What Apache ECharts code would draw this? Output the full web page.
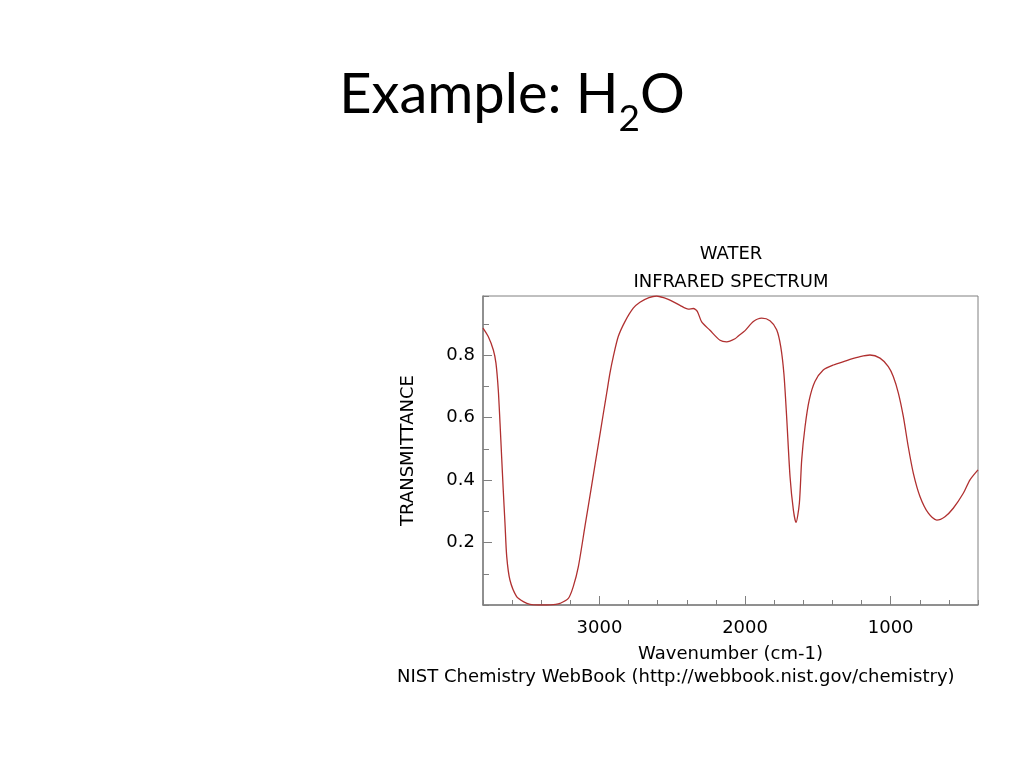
<!DOCTYPE html>
<html>
<head>
<meta charset="utf-8">
<script src="https://cdn.jsdelivr.net/npm/echarts@6/dist/echarts.min.js"></script>
<style>
html,body{margin:0;padding:0;background:#fff;}
#main{width:1024px;height:768px;}
</style>
</head>
<body>
<div id="main"></div>
<script>
// Wavenumber (cm-1) and transmittance
var wavenumbers = [3800,3764,3729,3711,3695,3683,3672,3661,3649,3637,3615,3569,3520,3477,3420,3362,3300,3271,3214,3180,3145,3099,3053,3008,2974,2950,2928,2905,2871,2825,2768,2722,2660,2607,2550,2516,2447,2390,2355,2328,2298,2241,2172,2126,2069,2046,2000,1943,1886,1829,1783,1755,1733,1714,1691,1668,1650,1627,1611,1588,1559,1520,1463,1394,1302,1279,1210,1142,1073,1016,982,947,913,879,844,798,741,683,627,570,501,455,400];
var transmittance = [0.887,0.86,0.817,0.775,0.689,0.582,0.475,0.369,0.262,0.155,0.080,0.027,0.010,0.002,0.000,0.000,0.002,0.005,0.021,0.059,0.123,0.254,0.385,0.514,0.612,0.680,0.743,0.796,0.860,0.908,0.951,0.970,0.985,0.990,0.983,0.977,0.960,0.948,0.950,0.941,0.907,0.880,0.848,0.843,0.853,0.862,0.879,0.908,0.919,0.911,0.882,0.828,0.740,0.600,0.411,0.304,0.264,0.326,0.465,0.571,0.657,0.716,0.753,0.769,0.783,0.787,0.796,0.801,0.791,0.764,0.732,0.679,0.604,0.507,0.422,0.347,0.294,0.272,0.283,0.310,0.358,0.401,0.433];
var xMajorTicks = [1000, 2000, 3000];
var yMajorTicks = [0.2, 0.4, 0.6, 0.8];

var seriesData = wavenumbers.map(function (w, i) { return [w, transmittance[i]]; });

// measure the slide title pieces so "H2O" can be set with a real subscript
var mctx = document.createElement('canvas').getContext('2d');
var bigFont = '56px Lato', subFont = '37px Lato';
mctx.font = bigFont; var wA = mctx.measureText('Example: H').width; var wO = mctx.measureText('O').width;
mctx.font = subFont; var wS = mctx.measureText('2').width;
var titleStart = 512 - (wA + wS + wO) / 2;

var chart = echarts.init(document.getElementById('main'), null, {renderer: 'canvas'});
var axisColor = '#808080';
var chartFont = 'DejaVu Sans';
chart.setOption({
  animation: false,
  backgroundColor: '#ffffff',
  title: [{
    text: 'WATER\nINFRARED SPECTRUM',
    left: 726,
    top: 235,
    textAlign: 'center',
    textStyle: {fontFamily: chartFont, fontSize: 18, fontWeight: 'normal', color: '#000', lineHeight: 28}
  }],
  graphic: [{
    type: 'text', x: titleStart, y: 95,
    style: {text: 'Example: H', font: bigFont, fill: '#000', verticalAlign: 'middle', align: 'left'}
  }, {
    type: 'text', x: titleStart + wA, y: 119,
    style: {text: '2', font: subFont, fill: '#000', verticalAlign: 'middle', align: 'left'}
  }, {
    type: 'text', x: titleStart + wA + wS, y: 95,
    style: {text: 'O', font: bigFont, fill: '#000', verticalAlign: 'middle', align: 'left'}
  }, {
    type: 'text', left: 397, top: 668,
    style: {text: 'NIST Chemistry WebBook (http://webbook.nist.gov/chemistry)', font: '18px "DejaVu Sans"', fill: '#000'}
  }],
  grid: {left: 483, top: 296, right: 46, bottom: 163, show: true, borderColor: axisColor, borderWidth: 1, backgroundColor: 'transparent'},
  xAxis: [{
    type: 'value', min: 400, max: 3800, interval: 200, inverse: true, position: 'bottom',
    name: 'Wavenumber (cm-1)', nameLocation: 'middle', nameGap: 40,
    nameTextStyle: {fontFamily: chartFont, fontSize: 18, color: '#000'},
    axisLine: {show: true, onZero: false, lineStyle: {color: axisColor, width: 1.5}},
    axisTick: {show: true, inside: true, length: 5, lineStyle: {color: axisColor}},
    axisLabel: {customValues: xMajorTicks, fontFamily: chartFont, fontSize: 18, color: '#000', margin: 14,
      formatter: function (v) { return String(v); }},
    splitLine: {show: false}
  }, {
    type: 'value', min: 400, max: 3800, interval: 200, inverse: true, position: 'bottom', offset: 0,
    axisLine: {show: false},
    axisTick: {show: true, inside: true, length: 9, customValues: xMajorTicks, lineStyle: {color: axisColor}},
    axisLabel: {show: false},
    splitLine: {show: false}
  }],
  yAxis: [{
    type: 'value', min: 0, max: 0.99, interval: 0.1, position: 'left',
    name: 'TRANSMITTANCE', nameLocation: 'middle', nameGap: 66, nameRotate: 90,
    nameTextStyle: {fontFamily: chartFont, fontSize: 18, color: '#000'},
    axisLine: {show: true, onZero: false, lineStyle: {color: axisColor, width: 1.5}},
    axisTick: {show: true, inside: true, length: 6, lineStyle: {color: axisColor}},
    axisLabel: {customValues: yMajorTicks, fontFamily: chartFont, fontSize: 18, color: '#000', margin: 8,
      formatter: function (v) { return v.toFixed(1); }},
    splitLine: {show: false}
  }, {
    type: 'value', min: 0, max: 0.99, interval: 0.1, position: 'left', offset: 0,
    axisLine: {show: false},
    axisTick: {show: true, inside: true, length: 9, customValues: yMajorTicks, lineStyle: {color: axisColor}},
    axisLabel: {show: false},
    splitLine: {show: false}
  }],
  series: [{
    type: 'line',
    xAxisIndex: 0, yAxisIndex: 0,
    data: seriesData,
    showSymbol: false,
    smooth: 0.25,
    lineStyle: {color: '#b03030', width: 1.3},
    clip: true
  }]
});
</script>
</body>
</html>
